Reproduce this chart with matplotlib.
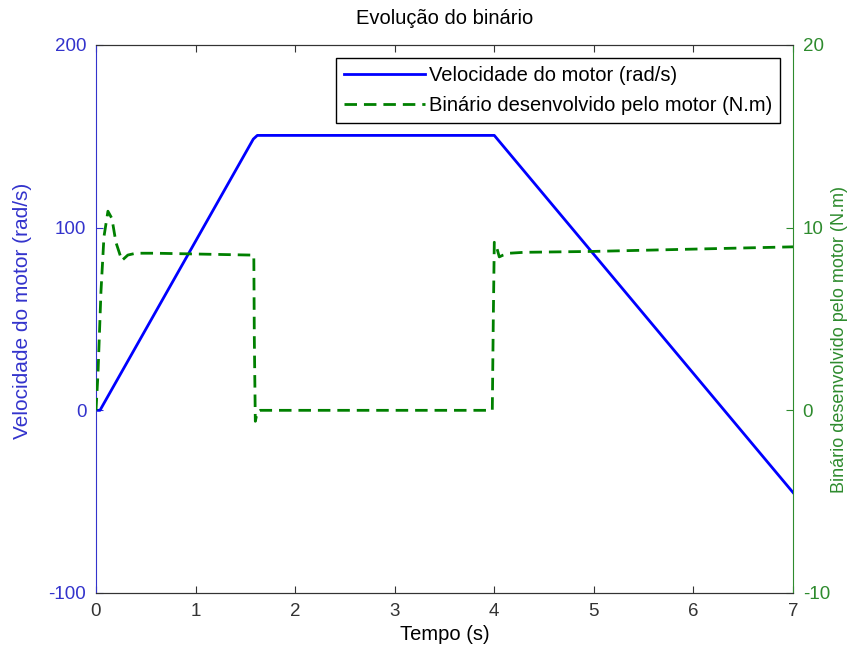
import matplotlib
matplotlib.use("Agg")
import matplotlib.pyplot as plt

# Speed (rad/s) keypoints
t_speed = [0.0, 0.04, 1.58, 1.62, 4.0, 7.0]
speed = [0.0, 0.0, 148.5, 150.5, 150.5, -45.0]

# Torque (N.m) keypoints
t_torque = [0.0, 0.02, 0.05, 0.08, 0.12, 0.16, 0.20, 0.26, 0.32, 0.40, 0.60,
            1.55, 1.585, 1.59, 1.60, 1.62, 1.65, 3.98, 3.99, 4.0, 4.02, 4.05,
            4.09, 4.15, 4.3, 5.0, 7.0]
torque = [0.0, 2.0, 6.5, 9.5, 10.9, 10.5, 9.2, 8.2, 8.5, 8.6, 8.6,
          8.5, 8.5, 4.0, -0.6, -0.1, 0.0, 0.0, 5.0, 9.2, 9.0, 8.4,
          8.5, 8.6, 8.65, 8.7, 8.95]

plt.rcParams['font.family'] = ['Liberation Sans', 'DejaVu Sans']
plt.rcParams['axes.unicode_minus'] = False
fig = plt.figure(figsize=(8.54, 6.51), dpi=100)
ax = fig.add_axes([0.1124, 0.0891, 0.8162, 0.8418])
ax2 = ax.twinx()

blue = '#0000ff'
green = '#008000'
laxis = '#3333cc'
raxis = '#2e8b2e'

l1, = ax.plot(t_speed, speed, color=blue, lw=2, label='Velocidade do motor (rad/s)')
l2, = ax2.plot(t_torque, torque, color=green, lw=2, ls=(0, (4.5, 2.5)),
               label='Binário desenvolvido pelo motor (N.m)')

ax.set_xlim(0, 7)
ax.set_ylim(-100, 200)
ax2.set_ylim(-10, 20)
ax.set_xticks(range(0, 8))
ax.set_yticks([-100, 0, 100, 200])
ax2.set_yticks([-10, 0, 10, 20])

for a in (ax, ax2):
    a.tick_params(direction='in', labelsize=13.5, length=5, pad=7)
ax.tick_params(axis='y', colors=laxis, labelcolor=laxis)
ax2.tick_params(axis='y', colors=raxis, labelcolor=raxis)
ax.tick_params(axis='x', colors='#333333', top=True, pad=7)

ax.spines['left'].set_color(laxis)
ax2.spines['left'].set_visible(False)
ax2.spines['right'].set_color(raxis)
ax.spines['right'].set_visible(False)
for a in (ax, ax2):
    a.spines['top'].set_color('#333333')
    a.spines['bottom'].set_color('#333333')

ax.set_ylabel('Velocidade do motor (rad/s)', color=laxis, fontsize=15)
ax.yaxis.set_label_coords(-0.092, 0.515)
ax2.set_ylabel('Binário desenvolvido pelo motor (N.m)', color=raxis, fontsize=13)
ax2.yaxis.set_label_coords(1.055, 0.462)
ax.set_xlabel('Tempo (s)', fontsize=14.5, labelpad=4)
ax.set_title('Evolução do binário', fontsize=14.5, pad=15)

leg = ax2.legend([l1, l2], [l1.get_label(), l2.get_label()], loc='upper right',
                 fontsize=14.5, fancybox=False, edgecolor='black', framealpha=1,
                 handlelength=4.0, handletextpad=0.2, borderaxespad=0.65,
                 labelspacing=0.55, borderpad=0.4)
leg.get_frame().set_linewidth(1.0)

fig.savefig('out.png', dpi=100)
